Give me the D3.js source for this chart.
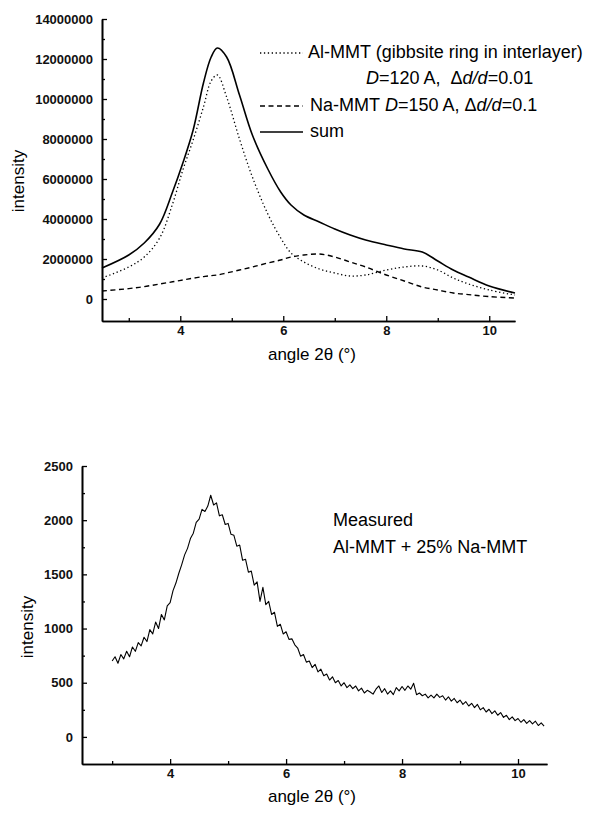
<!DOCTYPE html>
<html>
<head>
<meta charset="utf-8">
<script src="https://cdn.jsdelivr.net/npm/d3@7"></script>
<style>
  body { margin: 0; background: #fff; }
  svg { display: block; font-family: "Liberation Sans", Arial, sans-serif; }
</style>
</head>
<body>
<svg id="chart" width="589" height="813"></svg>
<script>
// ---- top panel: calculated profiles ----
const calcAngles = [2.48, 3.0, 3.3, 3.6, 3.85, 4.05, 4.25, 4.45, 4.6, 4.72, 4.9, 5.15, 5.4, 5.7, 5.95,
  6.15, 6.4, 6.7, 7.0, 7.3, 7.6, 8.0, 8.35, 8.7, 9.0, 9.3, 9.6, 10.0, 10.5];
const alMMT = [1.05e6, 1.6e6, 2.1e6, 3.05e6, 4.75e6, 6.45e6, 7.95e6, 9.6e6, 10.9e6, 11.2e6, 10.1e6, 8.0e6, 6.1e6, 4.25e6, 3.05e6,
  2.3e6, 1.85e6, 1.5e6, 1.3e6, 1.15e6, 1.2e6, 1.45e6, 1.6e6, 1.65e6, 1.45e6, 1.05e6, 0.75e6, 0.45e6, 0.2e6];
const naMMT = [0.4e6, 0.52e6, 0.62e6, 0.75e6, 0.86e6, 0.95e6, 1.04e6, 1.12e6, 1.17e6, 1.2e6, 1.3e6, 1.45e6, 1.6e6, 1.8e6, 1.95e6,
  2.1e6, 2.2e6, 2.25e6, 2.1e6, 1.85e6, 1.6e6, 1.2e6, 0.9e6, 0.6e6, 0.45e6, 0.3e6, 0.22e6, 0.12e6, 0.05e6];
const sumCurve = [1.55e6, 2.2e6, 2.8e6, 3.75e6, 5.35e6, 6.8e6, 8.45e6, 10.8e6, 12.1e6, 12.55e6, 12.1e6, 10.2e6, 8.2e6, 6.5e6, 5.35e6,
  4.7e6, 4.2e6, 3.85e6, 3.5e6, 3.2e6, 2.95e6, 2.7e6, 2.5e6, 2.35e6, 1.9e6, 1.45e6, 1.1e6, 0.65e6, 0.3e6];
const topYTicks = [0, 2000000, 4000000, 6000000, 8000000, 10000000, 12000000, 14000000];
const topYMinor = [1000000, 3000000, 5000000, 7000000, 9000000, 11000000, 13000000];

// ---- bottom panel: measured pattern ----
const measAngles = [
  3.00, 3.05, 3.10, 3.15, 3.20, 3.25, 3.30, 3.35, 3.40, 3.45,
  3.50, 3.55, 3.60, 3.65, 3.70, 3.75, 3.80, 3.85, 3.90, 3.95,
  4.00, 4.05, 4.10, 4.15, 4.20, 4.25, 4.30, 4.35, 4.40, 4.45,
  4.50, 4.55, 4.60, 4.65, 4.70, 4.75, 4.80, 4.85, 4.90, 4.95,
  5.00, 5.05, 5.10, 5.15, 5.20, 5.25, 5.30, 5.35, 5.40, 5.45,
  5.50, 5.55, 5.60, 5.65, 5.70, 5.75, 5.80, 5.85, 5.90, 5.95,
  6.00, 6.05, 6.10, 6.15, 6.20, 6.25, 6.30, 6.35, 6.40, 6.45,
  6.50, 6.55, 6.60, 6.65, 6.70, 6.75, 6.80, 6.85, 6.90, 6.95,
  7.00, 7.05, 7.10, 7.15, 7.20, 7.25, 7.30, 7.35, 7.40, 7.45,
  7.50, 7.55, 7.60, 7.65, 7.70, 7.75, 7.80, 7.85, 7.90, 7.95,
  8.00, 8.05, 8.10, 8.15, 8.20, 8.25, 8.30, 8.35, 8.40, 8.45,
  8.50, 8.55, 8.60, 8.65, 8.70, 8.75, 8.80, 8.85, 8.90, 8.95,
  9.00, 9.05, 9.10, 9.15, 9.20, 9.25, 9.30, 9.35, 9.40, 9.45,
  9.50, 9.55, 9.60, 9.65, 9.70, 9.75, 9.80, 9.85, 9.90, 9.95,
  10.00, 10.05, 10.10, 10.15, 10.20, 10.25, 10.30, 10.35, 10.40, 10.45];
const measCounts = [
  700, 740, 680, 760, 720, 790, 740, 830, 790, 870,
  840, 920, 880, 990, 950, 1060, 1000, 1130, 1080, 1210,
  1240, 1350, 1420, 1510, 1590, 1680, 1740, 1830, 1880, 1980,
  2010, 2100, 2080, 2130, 2230, 2140, 2160, 2040, 2050, 1960,
  1970, 1870, 1860, 1760, 1770, 1630, 1640, 1520, 1530, 1400,
  1430, 1250, 1380, 1220, 1250, 1130, 1150, 1020, 1040, 950,
  970, 900, 905, 850, 820, 745, 760, 690, 700, 640,
  670, 600, 625, 565, 580, 525, 555, 500, 520, 470,
  500, 455, 480, 445, 470, 425, 450, 405, 430, 415,
  395, 440, 470, 410, 445, 395, 425, 390, 455, 425,
  465, 430, 470, 440, 495, 390, 405, 380, 395, 360,
  385, 360, 395, 365, 380, 340, 370, 330, 355, 315,
  340, 300, 325, 285, 310, 270, 300, 250, 270, 230,
  255, 215, 240, 200, 225, 180, 200, 160, 185, 150,
  170, 135, 160, 125, 150, 120, 145, 105, 130, 100];
const botYTicks = [0, 500, 1000, 1500, 2000, 2500];
const botYMinor = [250, 750, 1250, 1750, 2250];

const xTicks = [4, 6, 8, 10];
const xMinor = [3, 5, 7, 9];

const svg = d3.select("#chart");

function drawAxes(x, y, yTicks, yMinor, opts) {
    const g = svg.append("g");

    // minor ticks first, then major with labels
    g.append("g")
        .attr("transform", `translate(0,${opts.bottom})`)
        .call(d3.axisBottom(x).tickValues(xMinor).tickSizeInner(-3).tickSizeOuter(0).tickFormat(""));
    g.append("g")
        .attr("transform", `translate(${opts.left},0)`)
        .call(d3.axisLeft(y).tickValues(yMinor).tickSizeInner(-3).tickSizeOuter(0).tickFormat(""));

    g.append("g")
        .attr("transform", `translate(0,${opts.bottom})`)
        .call(d3.axisBottom(x).tickValues(xTicks).tickSizeInner(-5).tickSizeOuter(0).tickPadding(5).tickFormat(d3.format("d")));
    g.append("g")
        .attr("transform", `translate(${opts.left},0)`)
        .call(d3.axisLeft(y).tickValues(yTicks).tickSizeInner(-5).tickSizeOuter(0).tickPadding(9).tickFormat(d3.format("d")));

    g.selectAll(".domain").attr("stroke", "#000").attr("stroke-width", 1.6);
    g.selectAll(".tick line").attr("stroke", "#000").attr("stroke-width", 1.3);
    g.selectAll(".tick text")
        .attr("fill", "#111")
        .style("font-size", "13px")
        .style("font-weight", "bold")
        .style("font-family", "'Liberation Sans', Arial, sans-serif");

    // axis titles
    svg.append("text")
        .attr("x", opts.xTitleX)
        .attr("y", opts.xTitleY)
        .attr("text-anchor", "middle")
        .style("font-size", "17px")
        .text("angle 2\u03B8 (\u00B0)");
    svg.append("text")
        .attr("transform", `translate(${opts.yTitleX},${opts.yTitleY}) rotate(-90)`)
        .attr("text-anchor", "middle")
        .attr("dominant-baseline", "central")
        .style("font-size", "17px")
        .text("intensity");
}

// ---------- top panel ----------
const xTop = d3.scaleLinear().domain([2.48, 10.5]).range([102, 515]);
const yTop = d3.scaleLinear().domain([-1.1e6, 14e6]).range([321, 19]);

drawAxes(xTop, yTop, topYTicks, topYMinor,
    { left: 102, bottom: 321, xTitleX: 312, xTitleY: 360, yTitleX: 18, yTitleY: 181 });

const lineTop = d3.line()
    .x((d, i) => xTop(calcAngles[i]))
    .y(d => yTop(d))
    .curve(d3.curveCatmullRom.alpha(0.5));

const topSeries = [
    { values: alMMT, dash: "1.3,2.6", width: 1.3 },
    { values: naMMT, dash: "5,3.5", width: 1.4 },
    { values: sumCurve, dash: null, width: 1.6 }
];

svg.append("g").selectAll("path")
    .data(topSeries)
    .join("path")
    .attr("d", d => lineTop(d.values))
    .attr("fill", "none")
    .attr("stroke", "#000")
    .attr("stroke-width", d => d.width)
    .attr("stroke-dasharray", d => d.dash);

// legend
const legend = svg.append("g").style("font-size", "18px").attr("fill", "#000");
const legendRows = [
    { y: 53, s: topSeries[0] },
    { y: 106, s: topSeries[1] },
    { y: 132, s: topSeries[2] }
];
legend.selectAll("line")
    .data(legendRows)
    .join("line")
    .attr("x1", 260).attr("x2", 303)
    .attr("y1", d => d.y).attr("y2", d => d.y)
    .attr("stroke", "#000")
    .attr("stroke-width", d => d.s.width)
    .attr("stroke-dasharray", d => d.s.dash);

legend.append("text").attr("x", 308).attr("y", 58)
    .text("Al-MMT (gibbsite ring in interlayer)");

const l2 = legend.append("text").attr("x", 366).attr("y", 84);
l2.append("tspan").style("font-style", "italic").text("D");
l2.append("tspan").text("=120 A,\u00A0\u00A0\u0394");
l2.append("tspan").style("font-style", "italic").text("d/d");
l2.append("tspan").text("=0.01");

const l3 = legend.append("text").attr("x", 310).attr("y", 111);
l3.append("tspan").text("Na-MMT\u00A0");
l3.append("tspan").style("font-style", "italic").text("D");
l3.append("tspan").text("=150 A, \u0394");
l3.append("tspan").style("font-style", "italic").text("d/d");
l3.append("tspan").text("=0.1");

legend.append("text").attr("x", 310).attr("y", 137).text("sum");

// ---------- bottom panel ----------
const xBot = d3.scaleLinear().domain([2.48, 10.5]).range([82, 547]);
const yBot = d3.scaleLinear().domain([-250, 2500]).range([764, 466]);

drawAxes(xBot, yBot, botYTicks, botYMinor,
    { left: 82, bottom: 764, xTitleX: 312, xTitleY: 802, yTitleX: 27, yTitleY: 627 });

const lineBot = d3.line()
    .x((d, i) => xBot(measAngles[i]))
    .y(d => yBot(d));

svg.append("path")
    .attr("d", lineBot(measCounts))
    .attr("fill", "none")
    .attr("stroke", "#000")
    .attr("stroke-width", 1.1)
    .attr("stroke-linejoin", "round");

svg.append("text").attr("x", 333).attr("y", 526).style("font-size", "18px").text("Measured");
svg.append("text").attr("x", 333).attr("y", 553).style("font-size", "18px").text("Al-MMT + 25% Na-MMT");
</script>
</body>
</html>
